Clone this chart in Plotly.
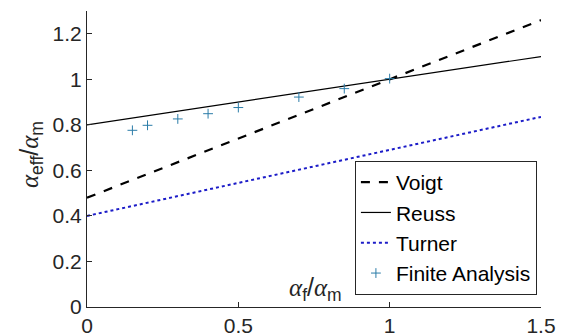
import plotly.graph_objects as go

# data
x_line = [0, 0.5, 1.0, 1.5]
voigt = [0.48, 0.74, 1.00, 1.26]
reuss = [0.80, 0.90, 1.00, 1.10]
turner = [0.40, 0.545, 0.69, 0.835]
fa_x = [0.15, 0.20, 0.30, 0.40, 0.50, 0.70, 0.85, 1.00]
fa_y = [0.776, 0.798, 0.826, 0.849, 0.876, 0.922, 0.959, 1.003]
x_ticks = [0, 0.5, 1, 1.5]
x_ticklabels = ["0", "0.5", "1", "1.5"]
y_ticks = [0, 0.2, 0.4, 0.6, 0.8, 1.0, 1.2]
y_ticklabels = ["0", "0.2", "0.4", "0.6", "0.8", "1", "1.2"]

AX = "#262626"
FONT = "Liberation Sans, Arial, sans-serif"
ALPHA = '<span style="font-family:Liberation Serif, serif"><i>α</i></span>'

fig = go.Figure()
fig.add_trace(go.Scatter(x=x_line, y=voigt, mode="lines", name="Voigt",
                         line=dict(color="black", width=2.2, dash="dash")))
fig.add_trace(go.Scatter(x=x_line, y=reuss, mode="lines", name="Reuss",
                         line=dict(color="black", width=1.2)))
fig.add_trace(go.Scatter(x=x_line, y=turner, mode="lines", name="Turner",
                         line=dict(color="#1c1cc8", width=2, dash="dot")))
fig.add_trace(go.Scatter(x=fa_x, y=fa_y, mode="markers", name="Finite Analysis",
                         marker=dict(symbol="cross-thin", size=7,
                                     line=dict(color="#2b7ca8", width=1),
                                     color="#2b7ca8")))

fig.update_layout(
    width=567, height=336,
    margin=dict(l=87, r=26, t=11, b=29, pad=0),
    paper_bgcolor="white", plot_bgcolor="white",
    font=dict(family=FONT, size=21, color=AX),
    showlegend=True,
    legend=dict(x=0.991, xanchor="right", y=(307 - 161) / (307 - 11), yanchor="top",
                bgcolor="white", bordercolor=AX, borderwidth=1,
                font=dict(size=21, color="black"),
                tracegroupgap=0, itemwidth=30),
    xaxis=dict(range=[0, 1.5], tickvals=x_ticks, ticktext=x_ticklabels,
               showline=True, linecolor=AX, linewidth=1, mirror=False,
               ticks="inside", ticklen=5, tickcolor=AX, showgrid=False,
               zeroline=False, automargin=False,
               tickfont=dict(size=21, color=AX)),
    yaxis=dict(range=[0, 1.3], tickvals=y_ticks, ticktext=y_ticklabels,
               showline=True, linecolor=AX, linewidth=1, mirror=False,
               ticks="inside", ticklen=5, tickcolor=AX, showgrid=False,
               zeroline=False, automargin=False,
               tickfont=dict(size=21, color=AX)),
)

fig.add_annotation(text=f"{ALPHA}<sub>f</sub>/{ALPHA}<sub>m</sub>",
                   xref="paper", yref="paper",
                   x=(315 - 87) / (541 - 87), y=(307 - 289) / (307 - 11),
                   xanchor="center", yanchor="middle", showarrow=False,
                   font=dict(size=25, color=AX))
fig.add_annotation(text=f"{ALPHA}<sub>eff</sub>/{ALPHA}<sub>m</sub>",
                   xref="paper", yref="paper",
                   x=(31 - 87) / (541 - 87), y=(307 - 155) / (307 - 11),
                   xanchor="center", yanchor="middle", showarrow=False,
                   textangle=-90,
                   font=dict(size=25, color=AX))

fig.write_html("out.html")
